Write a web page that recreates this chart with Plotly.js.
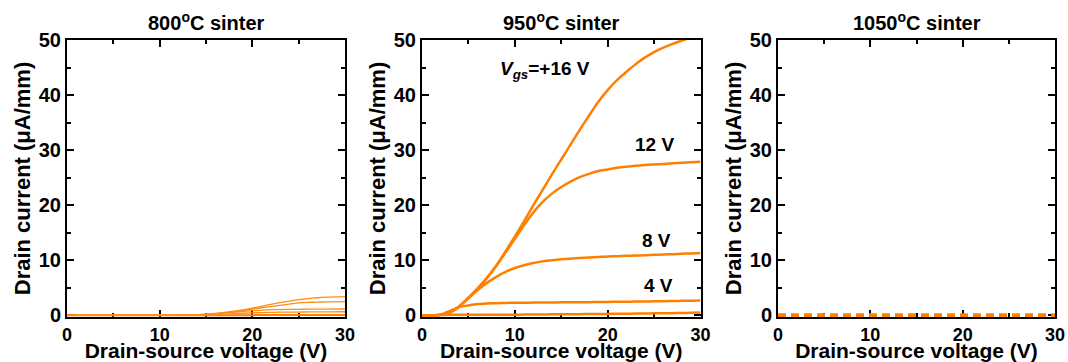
<!DOCTYPE html>
<html><head><meta charset="utf-8">
<script src="https://cdn.plot.ly/plotly-3.0.1.min.js"></script>
<style>html,body{margin:0;padding:0;background:#fff}#c{width:1068px;height:362px}</style>
</head><body><div id="c"></div>
<script>
// Panel titles
const panelTitles = ["800<sup>o</sup>C sinter", "950<sup>o</sup>C sinter", "1050<sup>o</sup>C sinter"];
const gateLabels = ["<i>V<sub>gs</sub></i>=+16 V", "12 V", "8 V", "4 V"];

// 800 C sinter: drain-source voltage (V) and drain current (uA/mm)
const vds800 = [0, 5, 10, 12, 14, 16, 18, 20, 22, 24, 25, 26, 27, 28, 30];
const id800_a = [0, 0, 0, 0, 0.1, 0.35, 0.75, 1.3, 2.0, 2.6, 2.85, 3.05, 3.2, 3.3, 3.4];
const id800_b = [0, 0, 0, 0, 0.1, 0.3, 0.65, 1.15, 1.6, 2.05, 2.25, 2.35, 2.4, 2.45, 2.5];
const id800_c = [0, 0, 0, 0, 0.05, 0.25, 0.55, 0.85, 1.05, 1.1, 1.1, 1.12, 1.13, 1.14, 1.15];
const id800_d = [0, 0, 0, 0, 0.05, 0.15, 0.3, 0.45, 0.55, 0.6, 0.6, 0.62, 0.63, 0.64, 0.65];
const id800_e = [0, 0, 0, 0, 0, 0.02, 0.03, 0.04, 0.05, 0.05, 0.05, 0.05, 0.05, 0.05, 0.05];

// 950 C sinter
const vds950 = [0, 1, 2, 3, 4, 5, 6, 7, 8, 9, 10, 11, 12, 13, 14, 15, 16, 17, 18, 19, 20, 21, 22, 23, 24, 25, 26, 27, 28, 29, 30];
const id950_16 = [0, 0, 0.1, 0.5, 1.6, 3.2, 4.9, 6.8, 9.0, 11.6, 14.3, 17.1, 20.0, 22.8, 25.6, 28.3, 31.0, 33.7, 36.3, 38.8, 40.9, 42.7, 44.2, 45.6, 46.8, 47.8, 48.6, 49.3, 49.9, 50.5, 51.0];
const id950_12 = [0, 0, 0.1, 0.5, 1.6, 3.2, 4.9, 6.8, 9.0, 11.4, 13.9, 16.4, 18.7, 20.6, 22.1, 23.3, 24.3, 25.1, 25.7, 26.2, 26.5, 26.8, 27.0, 27.15, 27.3, 27.4, 27.5, 27.6, 27.7, 27.8, 27.9];
const id950_8 = [0, 0, 0.1, 0.5, 1.6, 3.1, 4.6, 5.9, 7.0, 7.9, 8.6, 9.1, 9.5, 9.8, 10.0, 10.2, 10.3, 10.4, 10.5, 10.6, 10.7, 10.75, 10.8, 10.85, 10.9, 11.0, 11.05, 11.1, 11.2, 11.25, 11.3];
const id950_4 = [0, 0, 0.1, 0.8, 1.5, 1.8, 2.05, 2.15, 2.2, 2.25, 2.3, 2.3, 2.32, 2.34, 2.35, 2.36, 2.38, 2.4, 2.4, 2.42, 2.44, 2.46, 2.48, 2.5, 2.52, 2.55, 2.58, 2.6, 2.63, 2.66, 2.7];
const id950_0 = [0, 0, 0.05, 0.1, 0.1, 0.1, 0.1, 0.1, 0.12, 0.12, 0.12, 0.14, 0.15, 0.16, 0.18, 0.2, 0.2, 0.22, 0.24, 0.25, 0.26, 0.28, 0.3, 0.32, 0.34, 0.36, 0.38, 0.4, 0.43, 0.46, 0.5];

// 1050 C sinter
const vds1050 = [0, 30];
const id1050 = [0, 0];

const xTickVals = [0, 10, 20, 30];
const yTickVals = [0, 10, 20, 30, 40, 50];
const xTitle = "Drain-source voltage (V)";
const yTitle = "Drain current (\u03bcA/mm)";

const orange = "rgb(255,128,0)";
const lightOrange = "rgb(255,140,20)";
const F = "Liberation Sans, Arial, sans-serif";

function tr(x, y, ax, w, c, dash) {
  return {x: x, y: y, xaxis: "x" + ax, yaxis: "y" + ax, type: "scatter", mode: "lines",
    line: {color: c, width: w, shape: "spline", smoothing: 0.6, dash: dash || "solid"},
    hoverinfo: "skip", showlegend: false, cliponaxis: true};
}

const data = [
  tr(vds800, id800_e, "", 2, orange),
  tr(vds800, id800_d, "", 1.3, lightOrange),
  tr(vds800, id800_c, "", 1.3, lightOrange),
  tr(vds800, id800_b, "", 1.3, lightOrange),
  tr(vds800, id800_a, "", 1.3, lightOrange),
  tr(vds950, id950_0, "2", 2.5, orange),
  tr(vds950, id950_4, "2", 2.5, orange),
  tr(vds950, id950_8, "2", 2.5, orange),
  tr(vds950, id950_12, "2", 2.5, orange),
  tr(vds950, id950_16, "2", 2.5, orange),
  tr(vds1050, id1050, "3", 4, orange, "8px,5px")
];

const yDom = [1 - 317/362, 1 - 40/362];
const xDoms = [[67/1068, 345/1068], [422/1068, 700.5/1068], [778/1068, 1055/1068]];

function xax(i) {
  return {domain: xDoms[i], range: [0, 30], anchor: i === 0 ? "y" : "y" + (i + 1),
    tickvals: xTickVals, ticks: "inside", ticklen: 7, tickwidth: 2, tickcolor: "#000",
    minor: {dtick: 5, tick0: 0, ticks: "inside", ticklen: 4, tickwidth: 2, tickcolor: "#000"},
    showline: true, linewidth: 2, linecolor: "#000", mirror: "ticks", showgrid: false, zeroline: false,
    layer: "below traces",
    tickfont: {family: F, size: 18, color: "#000", weight: "bold"},
    title: {text: xTitle, font: {family: F, size: 21, color: "#000", weight: "bold"}, standoff: 3},
    automargin: false, fixedrange: true};
}
function yax(i) {
  return {domain: yDom, range: [-0.3, 50], anchor: i === 0 ? "x" : "x" + (i + 1),
    tickvals: yTickVals, ticks: "inside", ticklen: 7, tickwidth: 2, tickcolor: "#000",
    minor: {dtick: 5, tick0: 0, ticks: "inside", ticklen: 4, tickwidth: 2, tickcolor: "#000"},
    showline: true, linewidth: 2, linecolor: "#000", mirror: "ticks", showgrid: false, zeroline: false,
    layer: "below traces",
    tickfont: {family: F, size: 20, color: "#000", weight: "bold"},
    title: {text: yTitle, font: {family: F, size: 22, color: "#000", weight: "bold"}, standoff: 2},
    automargin: false, fixedrange: true};
}

const ann = [];
for (let i = 0; i < 3; i++) {
  ann.push({text: panelTitles[i], xref: "paper", yref: "paper", x: (xDoms[i][0] + xDoms[i][1]) / 2,
    y: 1 - 21/362, xanchor: "center", yanchor: "middle", showarrow: false,
    font: {family: F, size: 20, color: "#000", weight: "bold"}});
}
const labelPos = [[8.2, 44.6], [25.0, 31.0], [25.3, 13.5], [25.5, 5.4]];
for (let k = 0; k < 4; k++) {
  ann.push({text: gateLabels[k], xref: "x2", yref: "y2", x: labelPos[k][0], y: labelPos[k][1],
    xanchor: k === 0 ? "left" : "center", yanchor: "middle", showarrow: false,
    font: {family: F, size: 19, color: "#000", weight: "bold"}});
}

const layout = {
  width: 1068, height: 362, margin: {l: 0, r: 0, t: 0, b: 0},
  paper_bgcolor: "#fff", plot_bgcolor: "#fff", showlegend: false,
  xaxis: xax(0), yaxis: yax(0), xaxis2: xax(1), yaxis2: yax(1), xaxis3: xax(2), yaxis3: yax(2),
  annotations: ann
};

Plotly.newPlot("c", data, layout, {staticPlot: true, displayModeBar: false});
</script>
</body></html>
